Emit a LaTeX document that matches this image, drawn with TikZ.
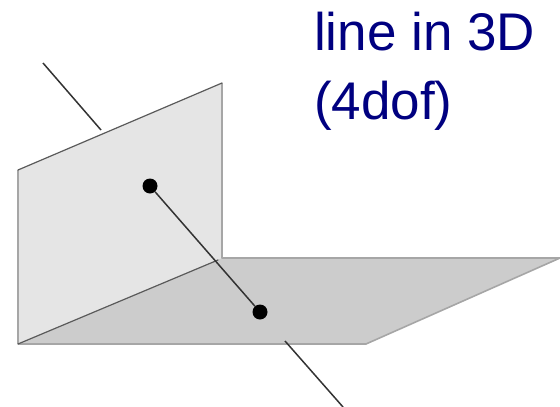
\documentclass[tikz,border=0pt]{standalone}
\usepackage{fontspec}
\setmainfont{Liberation Sans}
\definecolor{wallfill}{HTML}{E5E5E5}
\definecolor{floorfill}{HTML}{CCCCCC}
\definecolor{softedge}{HTML}{A6A6A6}
\definecolor{hardedge}{HTML}{5A5A5A}
\definecolor{linecol}{HTML}{333333}
\definecolor{titleblue}{HTML}{000080}
\tikzset{x=1pt,y=-1pt,
 softline/.style={draw=softedge,line width=1.6pt,line join=round},
 hardline/.style={draw=hardedge,line width=1.2pt,line cap=round},
 ray/.style={draw=linecol,line width=1.5pt},
 dotnode/.style={circle,fill=black,inner sep=0pt,minimum size=15pt},
 titletext/.style={text=titleblue,font=\fontsize{53}{53}\selectfont,anchor=base west,inner sep=0pt}}
\begin{document}
\begin{tikzpicture}
\useasboundingbox (0,0) rectangle (560,407);
\path[fill=wallfill] (18,170) -- (222,83) -- (222,258) -- (18,344) -- cycle;
\path[fill=floorfill] (18,344) -- (222,258) -- (560,258) -- (366,344) -- cycle;
\path[softline] (18,344) -- (18,170);
\path[softline] (222,83) -- (222,258) -- (560,258) -- (366,344) -- (18,344);
\path[hardline] (18,170) -- (222,83);
\path[hardline] (18,344) -- (218,260);
\coordinate (a1) at (43,63);
\coordinate (a2) at (101,130);
\coordinate (b1) at (285,341);
\coordinate (b2) at (343,407);
\node[dotnode] (p1) at (150,186) {};
\node[dotnode] (p2) at (260,312) {};
\draw[ray] (a1) -- (a2);
\draw[ray] (p1) -- (p2);
\draw[ray] (b1) -- (b2);
\node[titletext] (t1) at (314,50) {line in 3D};
\node[titletext] (t2) at (314,119.5) {(4dof)};
\end{tikzpicture}
\end{document}
